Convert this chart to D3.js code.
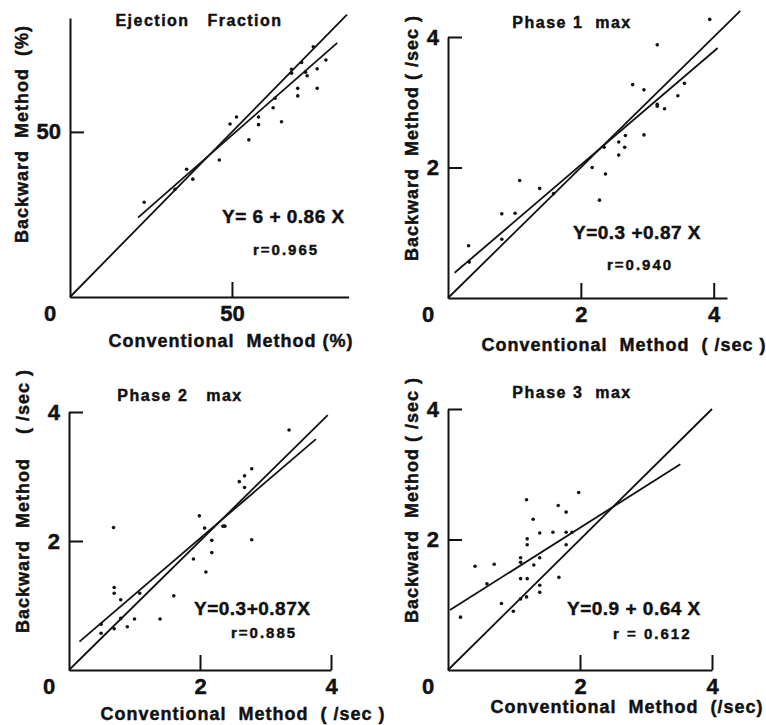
<!DOCTYPE html>
<html>
<head>
<meta charset="utf-8">
<script src="https://cdn.jsdelivr.net/npm/d3@7"></script>
<style>
  body { margin: 0; background: #fff; }
  svg { display: block; }
  text { font-family: "Liberation Sans", Arial, sans-serif; font-weight: bold; fill: #111; stroke: #111; stroke-width: 0.45px; white-space: pre; }
  .domain { stroke: #111; stroke-width: 2; }
  .tick line { stroke: #111; stroke-width: 2; }
</style>
</head>
<body>
<div id="viz"></div>
<script>
// data: [conventional, backward]
const efPoints = [
  [22.9, 28.7], [32.4, 32.6], [36.0, 38.7], [37.9, 35.7], [46.1, 41.5], [49.4, 52.4],
  [51.4, 54.5], [55.2, 47.6], [58.2, 54.5], [58.2, 52.2], [63.3, 60.2], [62.7, 57.3],
  [65.3, 53.1], [68.4, 69.0], [68.4, 67.8], [70.3, 63.2], [70.3, 60.9], [71.5, 71.0],
  [72.7, 68.1], [73.2, 67.0], [75.1, 75.8], [76.3, 69.1], [76.3, 63.2], [79.0, 71.8]
];
const p1Points = [
  [0.31, 0.80], [0.32, 0.55], [0.81, 1.29], [1.01, 1.30], [0.81, 0.90], [1.08, 1.80],
  [1.38, 1.68], [1.59, 1.60], [2.17, 2.00], [2.28, 1.50], [2.37, 1.90], [2.35, 2.31],
  [2.57, 2.39], [2.57, 2.19], [2.66, 2.31], [2.67, 2.49], [2.78, 3.27], [2.95, 3.19],
  [2.95, 2.50], [3.15, 3.88], [3.15, 2.97], [3.15, 2.94], [3.26, 2.90], [3.46, 3.10],
  [3.56, 3.29], [3.94, 4.27]
];
const p2Points = [
  [0.49, 0.71], [0.49, 0.57], [0.68, 2.21], [0.69, 1.28], [0.69, 1.19], [0.69, 0.64],
  [0.79, 1.09], [0.79, 0.80], [0.89, 0.67], [1.00, 0.79], [1.08, 1.19], [1.39, 0.79],
  [1.60, 1.15], [1.90, 1.72], [1.99, 2.39], [2.07, 2.20], [2.09, 1.52], [2.18, 2.01],
  [2.18, 1.82], [2.35, 2.23], [2.38, 2.23], [2.60, 2.92], [2.68, 3.01], [2.68, 2.83],
  [2.79, 3.12], [2.79, 2.02], [3.36, 3.72]
];
const p3Points = [
  [0.19, 0.81], [0.41, 1.59], [0.59, 1.32], [0.70, 1.62], [0.81, 1.02], [0.99, 0.90],
  [1.10, 1.72], [1.10, 1.65], [1.10, 1.40], [1.10, 1.09], [1.19, 2.61], [1.20, 2.01],
  [1.20, 1.92], [1.20, 1.40], [1.19, 1.12], [1.29, 2.31], [1.30, 1.61], [1.39, 2.10],
  [1.39, 1.72], [1.39, 1.30], [1.39, 1.19], [1.59, 2.11], [1.67, 2.52], [1.68, 1.42],
  [1.79, 2.42], [1.79, 2.11], [1.79, 1.92], [1.88, 2.11], [1.98, 2.72]
];

const titles = ["Ejection   Fraction", "Phase 1  max", "Phase 2   max", "Phase 3  max"];
const intercepts = [6, 0.3, 0.3, 0.9];
const slopes = [0.86, 0.87, 0.87, 0.64];
const fitRanges = [[21, 82.5], [0.1, 4.06], [0.16, 3.77], [0.03, 3.52]];
const identityEnds = [85.5, 4.4, 3.95, 4.0];
const equations = ["Y= 6 + 0.86 X", "Y=0.3 +0.87 X", "Y=0.3+0.87X", "Y=0.9 + 0.64 X"];
const rLabels = ["r=0.965", "r=0.940", "r=0.885", "r = 0.612"];
const xTickValues = [[50], [2, 4], [2, 4], [2, 4]];
const yTickValues = [[50], [2, 4], [2, 4], [2, 4]];
const xLabels = ["Conventional  Method (%)", "Conventional  Method  ( /sec )",
                 "Conventional  Method  ( /sec )", "Conventional  Method  (/sec)"];
const yLabels = ["Backward  Method  (%)", "Backward  Method ( /sec )",
                 "Backward  Method    ( /sec )", "Backward  Method ( /sec )"];

// layout of each panel (pixels)
const layout = [
  { xDom: [0, 86], xRng: [70, 348.6], yDom: [0, 84.5], yRng: [297, 18],
    title: [199, 26], eq: [222, 223], r: [253, 255], xl: [231, 347], yl: [22, 134] },
  { xDom: [0, 4.2], xRng: [448, 727], yDom: [0, 4], yRng: [298, 37],
    title: [572, 28], eq: [573, 239], r: [607, 270], xl: [624, 351], yl: [412, 138] },
  { xDom: [0, 4], xRng: [69, 331], yDom: [0, 4], yRng: [670, 412],
    title: [180, 401], eq: [194, 615], r: [231, 638], xl: [243, 720], yl: [23, 501] },
  { xDom: [0, 4], xRng: [448, 712], yDom: [0, 4], yRng: [670, 409],
    title: [572, 398], eq: [567, 615], r: [613, 639], xl: [627, 713], yl: [412, 500] }
];
const pointSets = [efPoints, p1Points, p2Points, p3Points];

const width = 766, height = 725;
const svg = d3.select("#viz").append("svg")
  .attr("width", width)
  .attr("height", height);

layout.forEach((L, i) => {
  const x = d3.scaleLinear().domain(L.xDom).range(L.xRng);
  const y = d3.scaleLinear().domain(L.yDom).range(L.yRng);
  const g = svg.append("g");

  g.append("g")
    .attr("transform", `translate(0,${y(0)})`)
    .call(d3.axisBottom(x).tickValues(xTickValues[i]).tickFormat(d3.format("d"))
      .tickSizeInner(-15).tickSizeOuter(0).tickPadding(8))
    .call(a => a.selectAll("text").style("font-size", "22px").attr("fill", "#111"));

  g.append("g")
    .attr("transform", `translate(${x(0)},0)`)
    .call(d3.axisLeft(y).tickValues(yTickValues[i]).tickFormat(d3.format("d"))
      .tickSizeInner(-14).tickSizeOuter(0).tickPadding(9))
    .call(a => a.selectAll("text").style("font-size", "22px").attr("fill", "#111"));

  // shared origin label
  g.append("text")
    .attr("x", x(0) - 20).attr("y", y(0) + 8).attr("dy", "0.71em")
    .attr("text-anchor", "middle").style("font-size", "22px")
    .text("0");

  // identity line
  g.append("line")
    .attr("x1", x(0)).attr("y1", y(0))
    .attr("x2", x(identityEnds[i])).attr("y2", y(identityEnds[i]))
    .attr("stroke", "#111").attr("stroke-width", 1.8);

  // regression line
  const f = v => intercepts[i] + slopes[i] * v;
  g.append("line")
    .attr("x1", x(fitRanges[i][0])).attr("y1", y(f(fitRanges[i][0])))
    .attr("x2", x(fitRanges[i][1])).attr("y2", y(f(fitRanges[i][1])))
    .attr("stroke", "#111").attr("stroke-width", 1.8);

  g.selectAll("circle")
    .data(pointSets[i])
    .enter()
    .append("circle")
    .attr("cx", d => x(d[0]))
    .attr("cy", d => y(d[1]))
    .attr("r", 1.8)
    .attr("fill", "#111");

  g.append("text")
    .attr("x", L.title[0]).attr("y", L.title[1])
    .attr("text-anchor", "middle").style("font-size", "16px").style("letter-spacing", "1.5px")
    .text(titles[i]);

  g.append("text")
    .attr("x", L.eq[0]).attr("y", L.eq[1])
    .style("font-size", "19px").style("letter-spacing", "0.5px")
    .text(equations[i]);

  g.append("text")
    .attr("x", L.r[0]).attr("y", L.r[1])
    .style("font-size", "15px").style("letter-spacing", "2px")
    .text(rLabels[i]);

  g.append("text")
    .attr("x", L.xl[0]).attr("y", L.xl[1])
    .attr("text-anchor", "middle").style("font-size", "18px").style("letter-spacing", "1px")
    .text(xLabels[i]);

  g.append("text")
    .attr("transform", `translate(${L.yl[0] + 6},${L.yl[1]}) rotate(-90)`)
    .attr("text-anchor", "middle").style("font-size", "18px").style("letter-spacing", "1px")
    .text(yLabels[i]);
});
</script>
</body>
</html>
